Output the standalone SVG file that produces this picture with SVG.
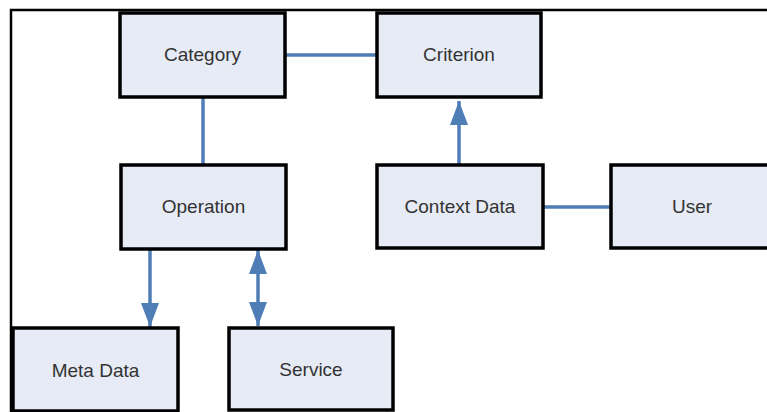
<svg xmlns="http://www.w3.org/2000/svg" width="767" height="412" viewBox="0 0 767 412">
  <style>
    .box { fill: #e6ebf5; stroke: #000; stroke-width: 3.5; }
    .lbl { font-family: "Liberation Sans", Arial, sans-serif; font-size: 19px; fill: #333; text-anchor: middle; }
    .link { stroke: #4f7db5; stroke-width: 3.5; fill: none; }
  </style>
  <defs>
    <marker id="head" viewBox="0 0 24 18" refX="24" refY="9" markerUnits="userSpaceOnUse" markerWidth="24" markerHeight="18" orient="auto-start-reverse">
      <path d="M0,0 L24,9 L0,18 Z" fill="#4f7db5"/>
    </marker>
  </defs>
  <rect width="767" height="412" fill="#fff"/>
  <!-- outer frame -->
  <path d="M11,412 V10 H767" fill="none" stroke="#000" stroke-width="2.5"/>

  <g id="connectors">
    <line class="link" x1="285" y1="55" x2="377" y2="55"/>
    <line class="link" x1="203" y1="97" x2="203" y2="165"/>
    <line class="link" x1="543" y1="207" x2="611" y2="207"/>
    <line class="link" x1="459" y1="165" x2="459" y2="101" marker-end="url(#head)"/>
    <line class="link" x1="150" y1="249" x2="150" y2="327" marker-end="url(#head)"/>
    <line class="link" x1="258" y1="250" x2="258" y2="326" marker-start="url(#head)" marker-end="url(#head)"/>
  </g>

  <g id="category">
    <rect class="box" x="120" y="13" width="165" height="84"/>
    <text class="lbl" x="202.5" y="61">Category</text>
  </g>
  <g id="criterion">
    <rect class="box" x="377" y="13" width="164" height="84"/>
    <text class="lbl" x="459" y="61">Criterion</text>
  </g>
  <g id="operation">
    <rect class="box" x="121" y="165" width="165" height="84"/>
    <text class="lbl" x="203.5" y="213">Operation</text>
  </g>
  <g id="context-data">
    <rect class="box" x="377" y="165" width="166" height="83"/>
    <text class="lbl" x="460" y="213">Context Data</text>
  </g>
  <g id="user">
    <rect class="box" x="611" y="165" width="170" height="83"/>
    <text class="lbl" x="692" y="213">User</text>
  </g>
  <g id="meta-data">
    <rect class="box" x="13" y="328" width="165" height="83"/>
    <text class="lbl" x="95.5" y="377">Meta Data</text>
  </g>
  <g id="service">
    <rect class="box" x="229" y="328" width="164" height="82"/>
    <text class="lbl" x="311" y="376">Service</text>
  </g>
</svg>
